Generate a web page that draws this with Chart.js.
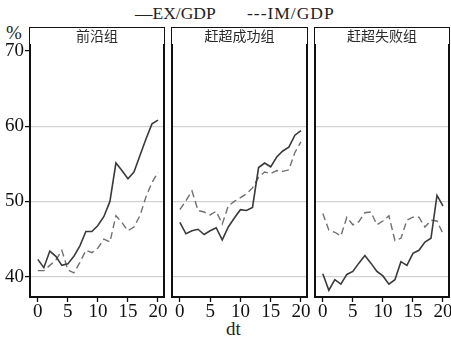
<!DOCTYPE html>
<html>
<head>
<meta charset="utf-8">
<script src="https://cdn.jsdelivr.net/npm/chart.js@4/dist/chart.umd.min.js"></script>
<style>
  body { margin: 0; background: #fff; }
  #wrap { position: relative; width: 451px; height: 337px; overflow: hidden; font-family: "Liberation Serif", serif; color: #222; }
  canvas { position: absolute; }
  .strip {
    position: absolute; top: 27px; height: 17px; box-sizing: border-box;
    border: 1.5px solid #111; border-bottom: none; background: #fff;
    font-family: "Noto Sans CJK SC", sans-serif; font-size: 14px; line-height: 15px;
    text-align: center; color: #2a2a2a;
  }
  .lbl { position: absolute; white-space: nowrap; }
</style>
</head>
<body>
<div id="wrap">
  <span class="lbl" style="left:135px; top:3px; font-size:17.5px;">—EX/GDP</span>
  <span class="lbl" style="left:247px; top:3px; font-size:17.5px; letter-spacing:1px;">---IM/GDP</span>
  <span class="lbl" style="left:6px; top:22px; font-size:19px;">%</span>
  <span class="lbl" style="left:226px; top:318px; font-size:19px;">dt</span>
  <canvas id="p1" width="167" height="297" style="left:0px; top:40px;"></canvas>
  <canvas id="p2" width="141" height="297" style="left:169px; top:40px;"></canvas>
  <canvas id="p3" width="139" height="297" style="left:312px; top:40px;"></canvas>
  <div class="strip" id="s1" style="left:29px; width:136px;"></div>
  <div class="strip" id="s2" style="left:171px; width:137px;"></div>
  <div class="strip" id="s3" style="left:314px; width:136px;"></div>
</div>
<script>
// values
const dtValues = [0, 1, 2, 3, 4, 5, 6, 7, 8, 9, 10, 11, 12, 13, 14, 15, 16, 17, 18, 19, 20];
const xTicks = [0, 5, 10, 15, 20];
const yTicks = [40, 50, 60, 70];
const yGridValues = [40, 50, 60];
const panelTitles = ['前沿组', '赶超成功组', '赶超失败组'];

const frontierEx = [42.3, 41.2, 43.4, 42.7, 41.5, 41.7, 42.7, 44.1, 46.0, 46.0, 46.8, 48.0, 50.0, 55.1, 54.1, 53.0, 53.9, 56.1, 58.3, 60.3, 60.8];
const frontierIm = [40.8, 40.8, 41.5, 42.2, 43.5, 40.9, 40.5, 41.9, 43.5, 43.2, 43.8, 45.0, 44.6, 48.1, 47.2, 46.1, 46.6, 48.1, 50.6, 52.5, 53.9];
const successEx = [47.2, 45.7, 46.1, 46.3, 45.6, 46.1, 46.5, 44.9, 46.6, 47.8, 48.9, 48.8, 49.2, 54.5, 55.1, 54.6, 55.9, 56.7, 57.2, 58.8, 59.4];
const successIm = [48.9, 50.1, 51.4, 48.8, 48.6, 48.2, 48.7, 47.0, 49.4, 50.0, 50.5, 51.0, 51.8, 53.2, 53.9, 53.7, 54.1, 54.0, 54.2, 56.5, 57.9];
const failEx = [40.4, 38.2, 39.6, 39.0, 40.3, 40.7, 41.8, 42.8, 41.8, 40.7, 40.1, 39.0, 39.6, 42.0, 41.5, 43.1, 43.5, 44.6, 45.1, 50.8, 49.4];
const failIm = [48.4, 46.2, 45.9, 45.4, 47.9, 46.9, 47.3, 48.5, 48.6, 46.9, 47.4, 48.1, 44.8, 45.1, 47.5, 47.9, 47.9, 46.6, 47.5, 47.4, 45.7];

const serif = '"Liberation Serif", "Times New Roman", serif';

// black box round the plotting area
const framePlugin = {
  id: 'frame',
  afterDraw(chart) {
    const a = chart.chartArea;
    const ctx = chart.ctx;
    ctx.save();
    ctx.strokeStyle = '#111';
    ctx.lineWidth = 2;
    ctx.strokeRect(a.left, a.top, a.right - a.left, a.bottom - a.top);
    ctx.restore();
  }
};

function toPoints(values) {
  return dtValues.map((d, i) => ({ x: d, y: values[i] }));
}

function makePanel(id, ex, im, showY, padding) {
  const canvas = document.getElementById(id);
  return new Chart(canvas, {
    type: 'line',
    data: {
      datasets: [
        {
          label: 'EX/GDP',
          data: toPoints(ex),
          borderColor: '#3a3a3a',
          borderWidth: 1.6,
          pointRadius: 0,
          tension: 0
        },
        {
          label: 'IM/GDP',
          data: toPoints(im),
          borderColor: '#707070',
          borderWidth: 1.4,
          borderDash: [7, 4],
          pointRadius: 0,
          tension: 0
        }
      ]
    },
    options: {
      responsive: false,
      animation: false,
      devicePixelRatio: 1,
      layout: { padding: padding },
      plugins: { legend: { display: false }, tooltip: { enabled: false } },
      scales: {
        x: {
          type: 'linear',
          min: -1.3,
          max: 21.0,
          afterBuildTicks: s => { s.ticks = xTicks.map(v => ({ value: v })); },
          afterFit: s => { s.height = 40; s.paddingLeft = 0; s.paddingRight = 0; },
          border: { display: false },
          grid: { drawOnChartArea: false, drawTicks: true, tickLength: 5, tickColor: '#111', tickWidth: 1.3 },
          ticks: { color: '#111', padding: -1, maxRotation: 0, font: { family: serif, size: 19 } }
        },
        y: {
          type: 'linear',
          min: 37.3,
          max: 71.05,
          afterBuildTicks: s => { s.ticks = yTicks.map(v => ({ value: v })); },
          afterFit: s => { s.width = showY ? 30 : 0; s.paddingTop = 0; s.paddingBottom = 0; },
          border: { display: false },
          grid: {
            color: c => yGridValues.includes(c.tick.value) ? '#d2d2d2' : 'rgba(0,0,0,0)',
            lineWidth: 1.2,
            drawTicks: showY,
            tickLength: 5,
            tickColor: '#111',
            tickWidth: 1.3
          },
          ticks: { display: showY, color: '#111', padding: 1, font: { family: serif, size: 19 } }
        }
      }
    },
    plugins: [framePlugin]
  });
}

makePanel('p1', frontierEx, frontierIm, true, { top: 3, right: 3, left: 0, bottom: 0 });
makePanel('p2', successEx, successIm, false, { top: 3, right: 3, left: 3, bottom: 0 });
makePanel('p3', failEx, failIm, false, { top: 3, right: 2, left: 3, bottom: 0 });

['s1', 's2', 's3'].forEach((id, i) => {
  document.getElementById(id).textContent = panelTitles[i];
});
</script>
</body>
</html>
